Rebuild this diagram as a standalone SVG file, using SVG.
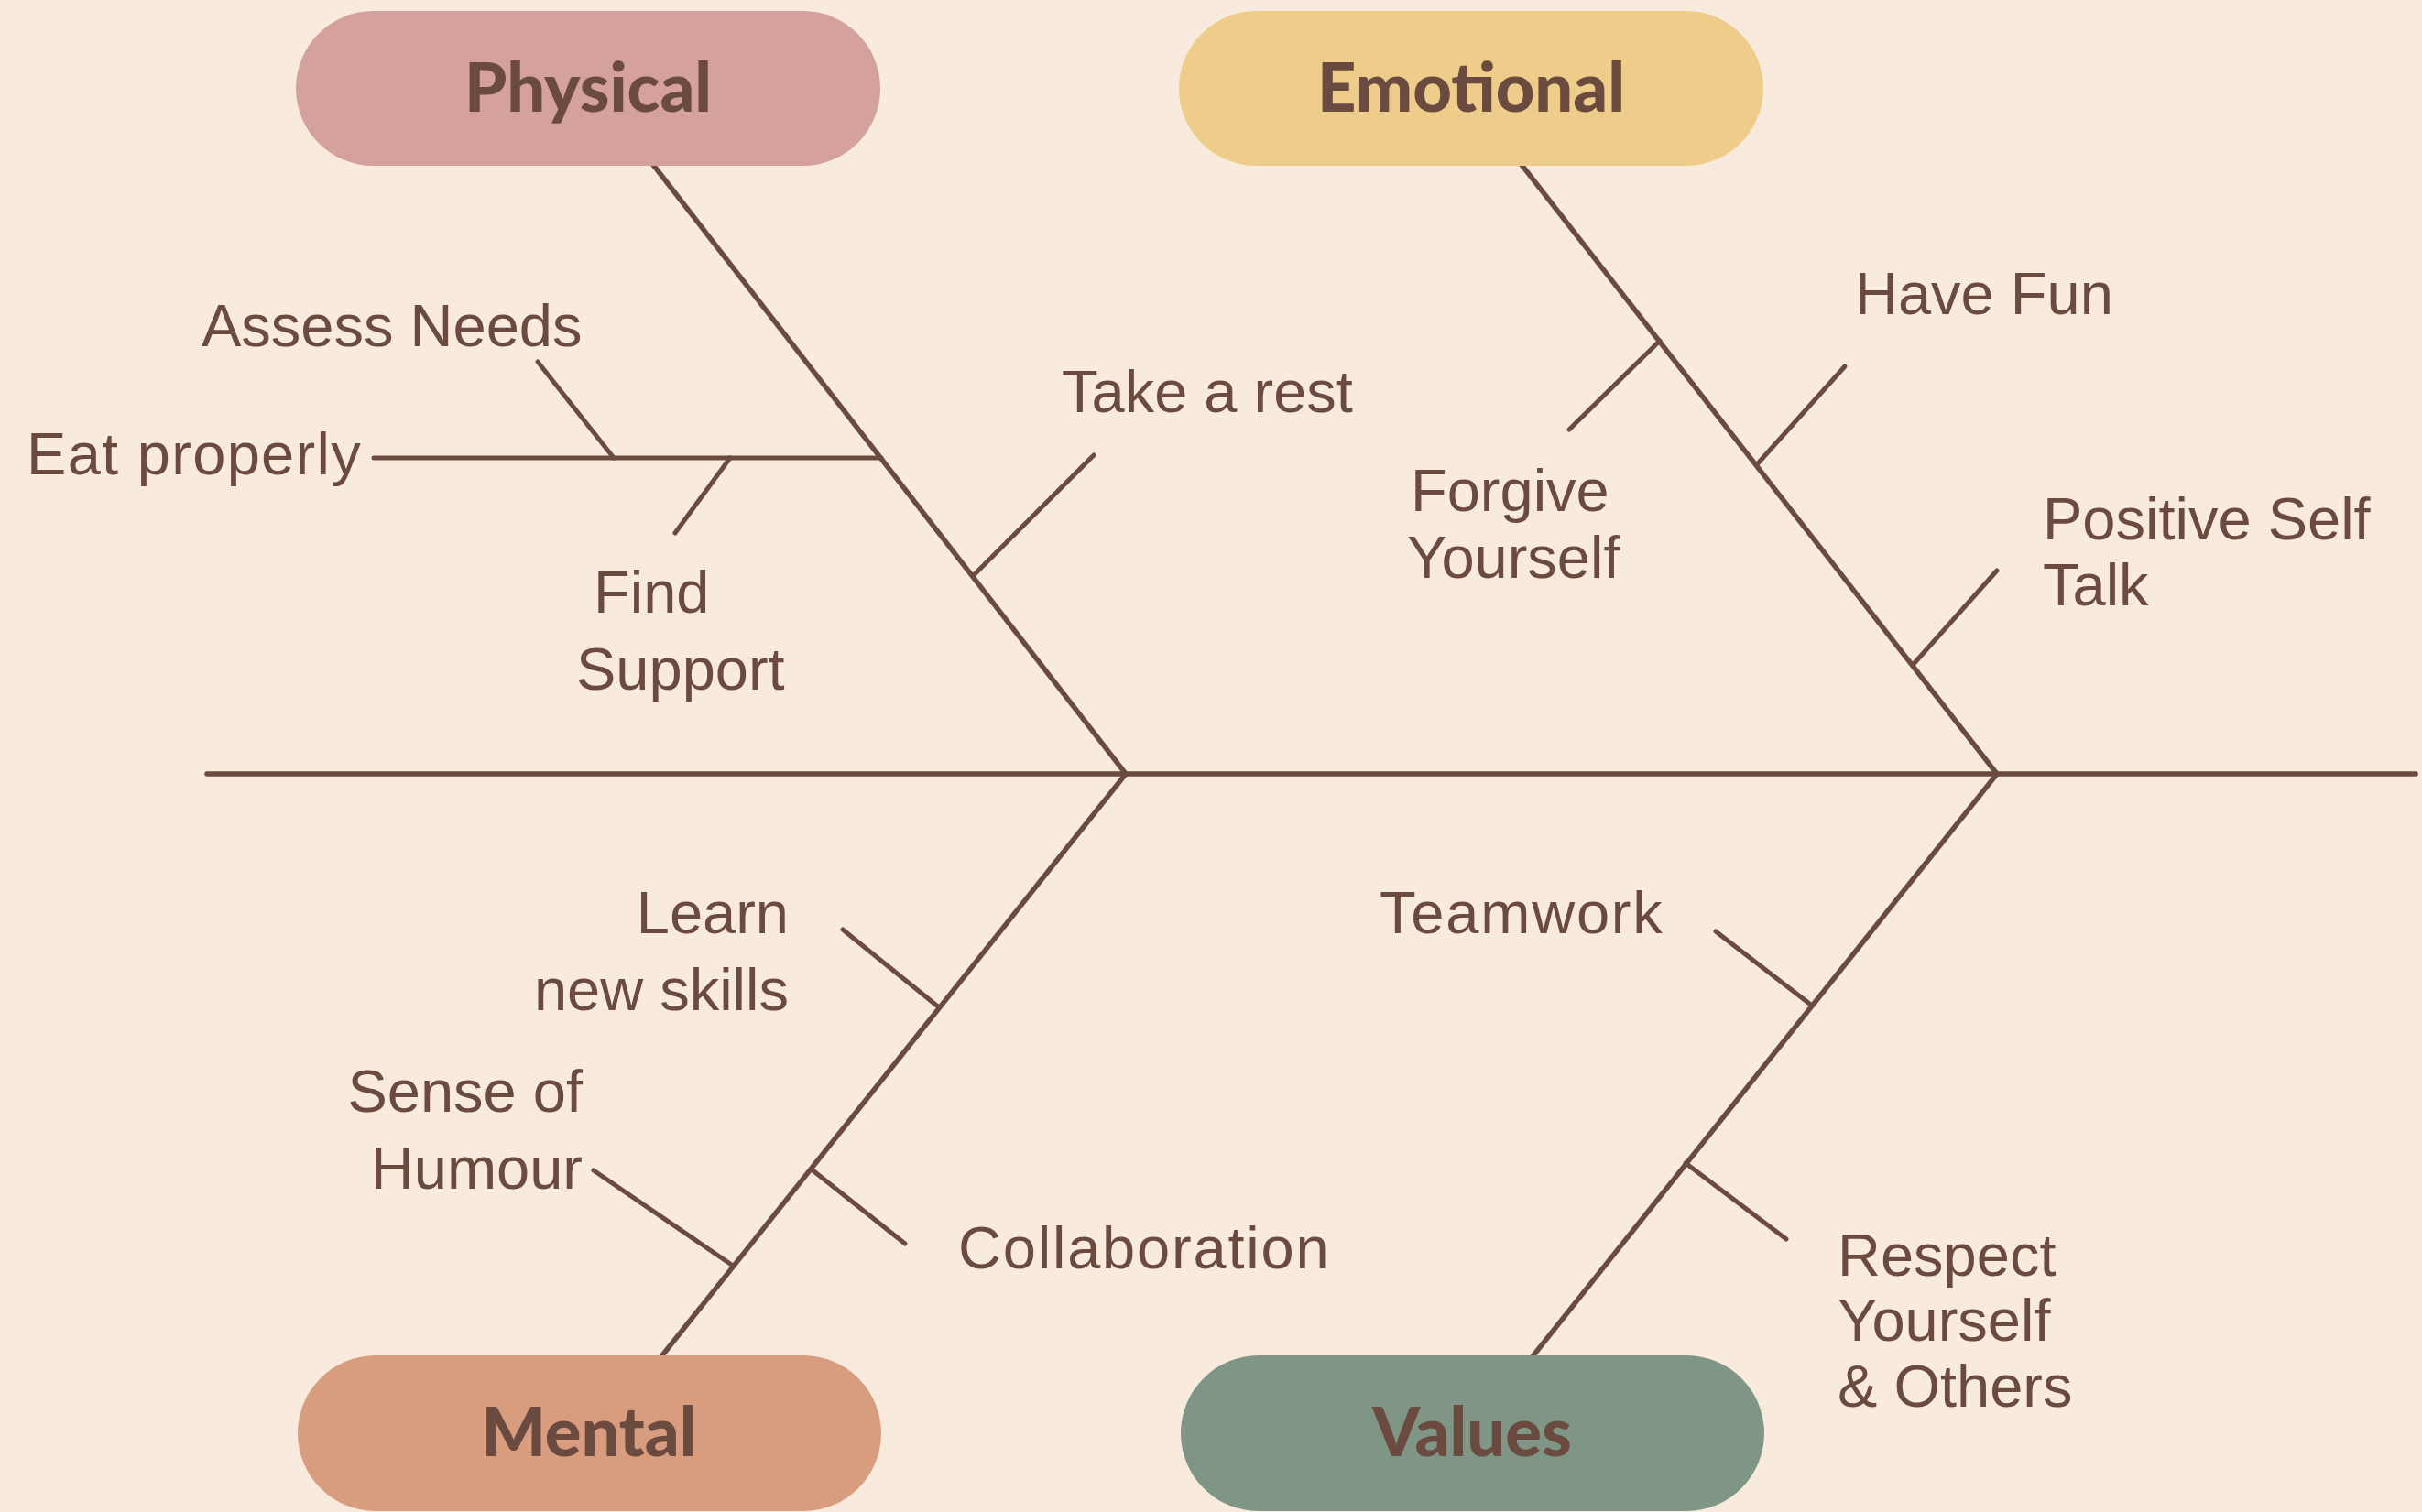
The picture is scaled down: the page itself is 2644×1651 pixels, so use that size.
<svg xmlns="http://www.w3.org/2000/svg" width="2644" height="1651" viewBox="0 0 2644 1651">
<style>
.bone{stroke:#6b4a40;stroke-width:5.5;stroke-linecap:round;fill:none}
.sub{stroke:#6b4a40;stroke-width:5;stroke-linecap:round;fill:none}
.lbl{font-family:"Liberation Sans",Arial,sans-serif;font-size:65px;fill:#6b4a40}
.ttl{font-family:Lato,"Liberation Sans",sans-serif;font-weight:900;font-size:74px;fill:#6b4a40;text-anchor:middle}
.end{text-anchor:end}
</style>
<rect x="0" y="0" width="2644" height="1651" fill="#f8ebdd"/>
<g id="connectors">
<line class="bone" x1="226" y1="845" x2="2637" y2="845"/>
<line class="bone" x1="710" y1="176" x2="1229" y2="845"/>
<line class="bone" x1="1658" y1="176" x2="2180" y2="845"/>
<line class="bone" x1="1229" y1="845" x2="719" y2="1485"/>
<line class="bone" x1="2180" y1="845" x2="1670" y2="1485"/>
<line class="sub" x1="408" y1="500" x2="962" y2="500"/>
<line class="sub" x1="587" y1="395" x2="670" y2="500"/>
<line class="sub" x1="797" y1="500" x2="737" y2="582"/>
<line class="sub" x1="1194" y1="497" x2="1064" y2="627"/>
<line class="sub" x1="1812" y1="372" x2="1713" y2="469"/>
<line class="sub" x1="1919" y1="506" x2="2014" y2="400"/>
<line class="sub" x1="2089" y1="725" x2="2180" y2="623"/>
<line class="sub" x1="920" y1="1015" x2="1025" y2="1100"/>
<line class="sub" x1="648" y1="1278" x2="800" y2="1382"/>
<line class="sub" x1="886" y1="1277" x2="988" y2="1358"/>
<line class="sub" x1="1873" y1="1017" x2="1978" y2="1098"/>
<line class="sub" x1="1840" y1="1270" x2="1950" y2="1353"/>
</g>
<g id="physical">
<rect x="323" y="12" width="638" height="169" rx="84.5" fill="#d4a19c"/>
<text class="ttl" x="642" y="122">Physical</text>
</g>
<g id="emotional">
<rect x="1287" y="12" width="638" height="169" rx="84.5" fill="#eecc8a"/>
<text class="ttl" x="1606" y="122">Emotional</text>
</g>
<g id="mental">
<rect x="325" y="1480" width="637" height="170" rx="85" fill="#d89c7f"/>
<text class="ttl" x="643" y="1590">Mental</text>
</g>
<g id="values">
<rect x="1289" y="1480" width="637" height="170" rx="85" fill="#7f9585"/>
<text class="ttl" x="1607" y="1590">Values</text>
</g>
<g id="labels">
<text class="lbl" x="220" y="378">Assess Needs</text>
<text class="lbl" x="29" y="518" letter-spacing="1.3">Eat properly</text>
<text class="lbl" x="648" y="669">Find</text>
<text class="lbl" x="629" y="753">Support</text>
<text class="lbl" x="1159" y="450">Take a rest</text>
<text class="lbl" x="2025" y="343">Have Fun</text>
<text class="lbl" x="1540" y="558">Forgive</text>
<text class="lbl" x="1536" y="631">Yourself</text>
<text class="lbl" x="2230" y="589">Positive Self</text>
<text class="lbl" x="2230" y="661">Talk</text>
<text class="lbl end" x="861" y="1019">Learn</text>
<text class="lbl end" x="861" y="1103">new skills</text>
<text class="lbl end" x="636" y="1214">Sense of</text>
<text class="lbl end" x="636" y="1298">Humour</text>
<text class="lbl" x="1046" y="1385" letter-spacing="1.8">Collaboration</text>
<text class="lbl" x="1506" y="1019" letter-spacing="1.8">Teamwork</text>
<text class="lbl" x="2006" y="1393">Respect</text>
<text class="lbl" x="2006" y="1464">Yourself</text>
<text class="lbl" x="2006" y="1536">&amp; Others</text>
</g>
</svg>
